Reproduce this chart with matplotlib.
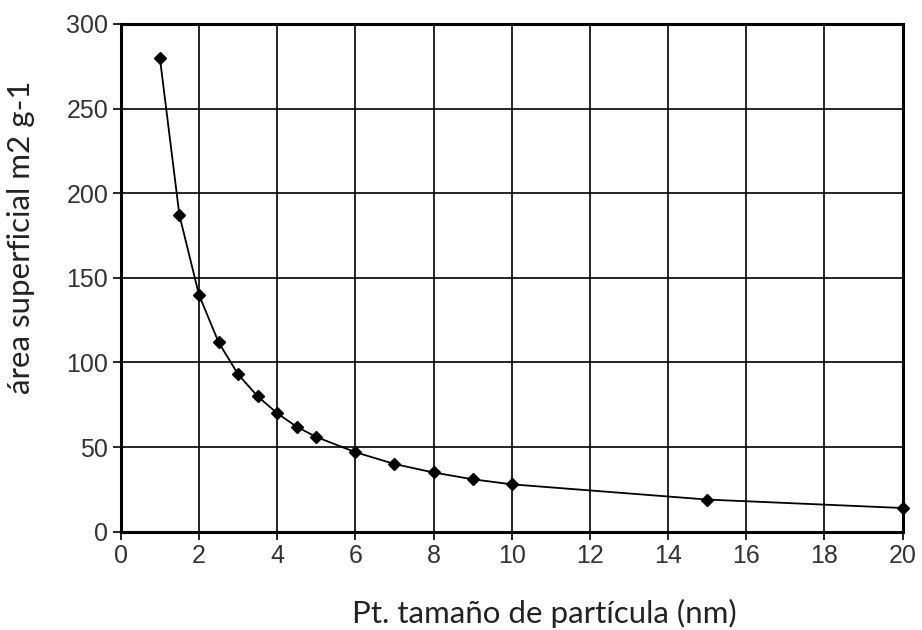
import matplotlib.pyplot as plt

# particle size (nm) and surface area (m2/g)
size_nm = [1, 1.5, 2, 2.5, 3, 3.5, 4, 4.5, 5, 6, 7, 8, 9, 10, 15, 20]
area_m2g = [280, 187, 140, 112, 93, 80, 70, 62, 56, 47, 40, 35, 31, 28, 19, 14]

x_ticks = list(range(0, 21, 2))
y_ticks = list(range(0, 301, 50))

fig = plt.figure(figsize=(9.22, 6.3), dpi=100)
ax = fig.add_axes([0.131, 0.156, 0.848, 0.806])

ax.plot(size_nm, area_m2g, color='black', linewidth=1.3,
        marker='D', markersize=6, markerfacecolor='black', clip_on=False, zorder=3)

ax.set_xlim(0, 20)
ax.set_ylim(0, 300)
ax.set_xticks(x_ticks)
ax.set_yticks(y_ticks)
ax.grid(True, color='black', linewidth=1.2)
ax.set_axisbelow(True)
for side in ax.spines.values():
    side.set_linewidth(2.2)

ax.tick_params(axis='both', direction='out', length=6, width=1.2,
               labelsize=18, colors='black', pad=3)
for lbl in ax.get_xticklabels() + ax.get_yticklabels():
    lbl.set_family('Liberation Sans')
    lbl.set_color('#333333')

ax.set_xlabel('Pt. tamaño de partícula (nm)', fontsize=22.5, family='Lato',
              color='#222222', va='center', ha='center')
ax.set_ylabel('área superficial m2 g-1', fontsize=22.5, family='Lato',
              color='#222222', va='center', ha='center')
# labels in the reference sit a little off-centre
ax.xaxis.set_label_coords(0.542, -0.16)
ax.yaxis.set_label_coords(-0.127, 0.58)

plt.savefig('out.png', dpi=100)
plt.close()
